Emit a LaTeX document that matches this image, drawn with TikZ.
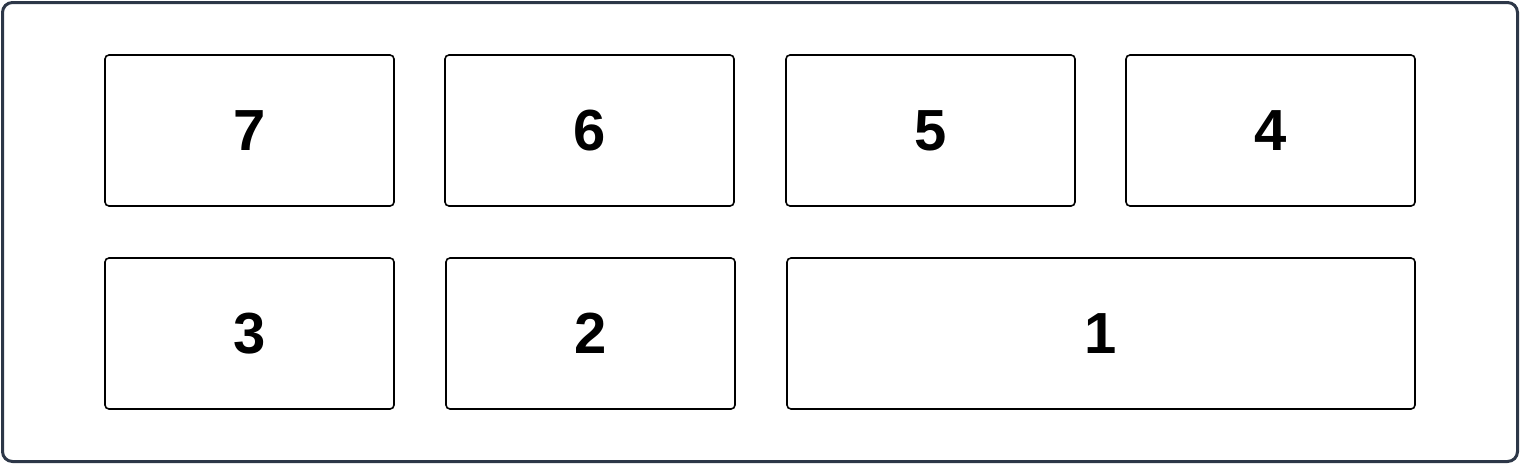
\documentclass[tikz,border=0pt]{standalone}
\usepackage{fontspec}
\setmainfont{Liberation Sans}
\definecolor{frame}{HTML}{2D3748}
\begin{document}
\begin{tikzpicture}[x=1pt,y=-1pt,
	cell/.style={draw,line width=1.6pt,rounded corners=4pt,minimum height=151pt,
		inner sep=0pt,font=\fontsize{58}{60}\selectfont\bfseries},
	narrow/.style={cell,minimum width=289pt},
	wide/.style={cell,minimum width=628pt}]
\useasboundingbox (0,0) rectangle (1520,464);
\draw[frame,line width=3pt,rounded corners=10pt] (2.5,2.5) rectangle (1517.5,461.5);
% top row
\node[narrow] (n7) at (249.5,130.5) {7};
\node[narrow] (n6) at (589.5,130.5) {6};
\node[narrow] (n5) at (930.5,130.5) {5};
\node[narrow] (n4) at (1270.5,130.5) {4};
% bottom row
\node[narrow] (n3) at (249.5,333.5) {3};
\node[narrow] (n2) at (590.5,333.5) {2};
\node[wide] (n1) at (1101,333.5) {1};
\end{tikzpicture}
\end{document}
